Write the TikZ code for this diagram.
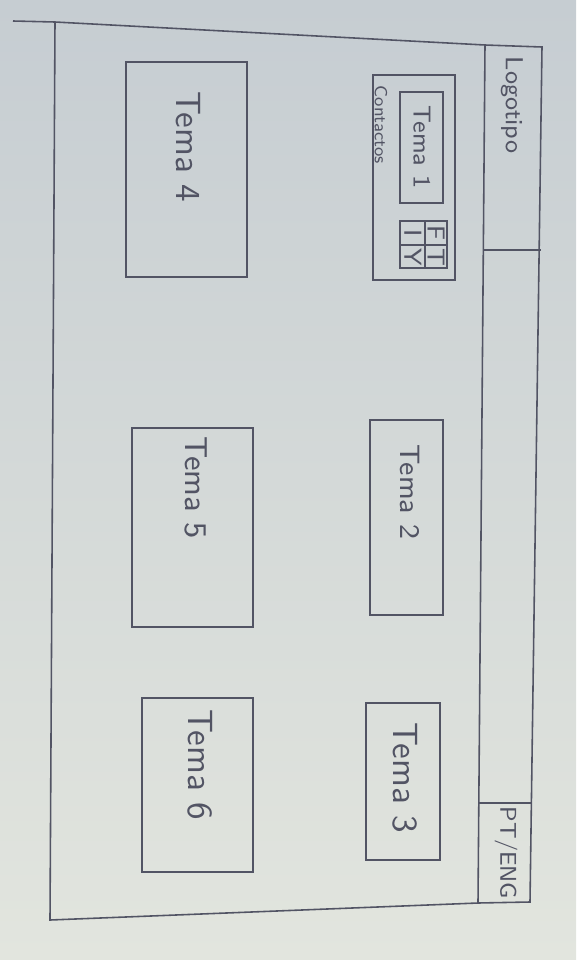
\documentclass[tikz,border=0pt]{standalone}
\usetikzlibrary{calc}
\definecolor{pencil}{RGB}{82,84,100}
\definecolor{paperA}{RGB}{198,205,210}
\definecolor{paperB}{RGB}{226,229,222}
\begin{document}
\begin{tikzpicture}[x=0.1mm,y=-0.1mm,inner sep=0pt,outer sep=0pt,
	sketch/.style={draw=pencil,line width=0.45pt},
	hand/.style={rotate=-90,text=pencil,font=\sffamily}]
	\useasboundingbox (0,0) rectangle (576,960);
	\shade[top color=paperA,bottom color=paperB] (0,0) rectangle (576,960);

	% page frame and header strip
	\coordinate (tl) at (55,22);
	\coordinate (bl) at (50,920);
	\coordinate (tr) at (542,47);
	\coordinate (br) at (530,902);
	\coordinate (stl) at (485,45);
	\coordinate (sbl) at (478,903);
	\draw[sketch] (13,21) -- (tl) -- (stl) -- (tr) -- (br) -- (sbl) -- (bl) -- (tl);
	\draw[sketch] (stl) -- (sbl);
	\draw[sketch] (484,250) -- (541,250);
	\draw[sketch] (479,803) -- (531,803);
	\node[hand,font=\sffamily\scriptsize] at (512,105) (logo) {Logotipo};
	\node[hand,font=\sffamily\fontsize{6.5}{7}\selectfont] at (506,853) (lang) {PT/ENG};

	% tema 1 with contactos
	\draw[sketch] (373,75) rectangle (455,280);
	\draw[sketch] (400,92) rectangle (443,203);
	\draw[sketch] (400,221) rectangle (447,268);
	\draw[sketch] (425,221) -- (425,268);
	\draw[sketch] (400,245) -- (447,245);
	\node[hand,font=\sffamily\scriptsize] at (422,147) (t1) {Tema 1};
	\node[hand,font=\sffamily\tiny] at (381,125) (contactos) {Contactos};
	\node[hand,font=\sffamily\scriptsize] at (436,233) (fb) {F};
	\node[hand,font=\sffamily\scriptsize] at (436,257) (tw) {T};
	\node[hand,font=\sffamily\scriptsize] at (413,233) (ig) {I};
	\node[hand,font=\sffamily\scriptsize] at (413,257) (yt) {Y};

	% other temas
	\draw[sketch] (126,62) rectangle (247,277);
	\node[hand] at (188,147) (t4) {Tema 4};
	\draw[sketch] (370,420) rectangle (443,615);
	\node[hand,font=\sffamily\footnotesize] at (410,492) (t2) {Tema 2};
	\draw[sketch] (132,428) rectangle (253,627);
	\node[hand,font=\sffamily\small] at (196,488) (t5) {Tema 5};
	\draw[sketch] (366,703) rectangle (440,860);
	\node[hand] at (405,778) (t3) {Tema 3};
	\draw[sketch] (142,698) rectangle (253,872);
	\node[hand] at (200,765) (t6) {Tema 6};
\end{tikzpicture}
\end{document}
